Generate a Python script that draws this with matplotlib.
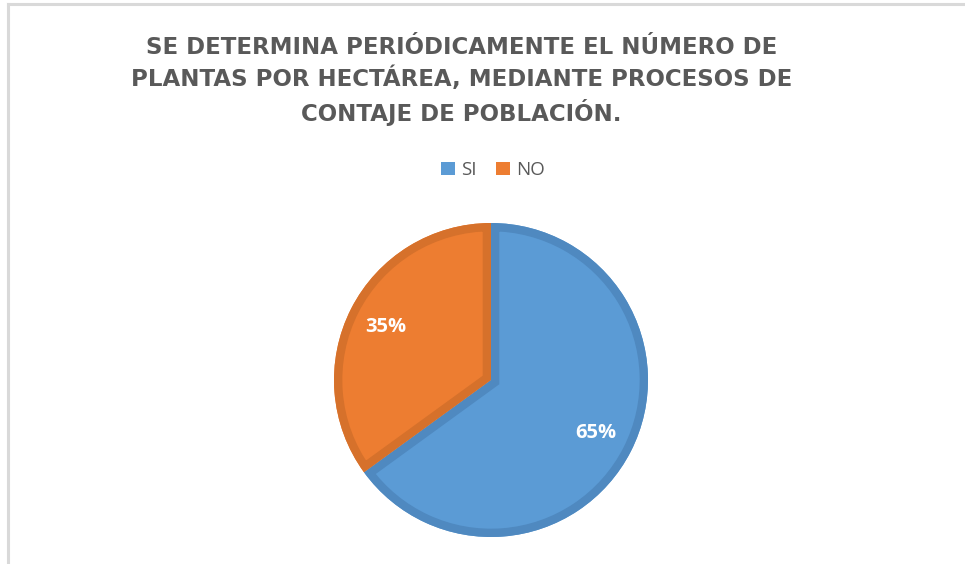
import matplotlib
matplotlib.use("Agg")
import matplotlib.pyplot as plt
from matplotlib.patches import Patch, Wedge
from matplotlib.lines import Line2D

title = "SE DETERMINA PERIÓDICAMENTE EL NÚMERO DE\nPLANTAS POR HECTÁREA, MEDIANTE PROCESOS DE\nCONTAJE DE POBLACIÓN."
labels = ["SI", "NO"]
values = [65, 35]
colors = ["#5B9BD5", "#ED7D31"]
edge_colors = ["#4F89C0", "#D6712B"]

fig = plt.figure(figsize=(9.65, 5.64), dpi=100)
fig.patch.set_facecolor("white")

# chart border (top and left visible)
fig.add_artist(Line2D([8/965, 8/965], [0, 1 - 4/564], color="#D9D9D9", lw=2.2, transform=fig.transFigure))
fig.add_artist(Line2D([8/965, 1], [1 - 4/564, 1 - 4/564], color="#D9D9D9", lw=2.2, transform=fig.transFigure))

fig.text(0.478, 1 - 81/564, title, ha="center", va="center", fontsize=16.5,
         fontweight="bold", color="#595959", family="DejaVu Sans", linespacing=1.37)

cx, cy, r = 491, 380, 157
ax = fig.add_axes([(cx - r)/965, (564 - cy - r)/564, 2*r/965, 2*r/564])
wedges, texts, autotexts = ax.pie(values, colors=colors, startangle=90, counterclock=False,
                                  autopct="%1.0f%%", pctdistance=0.75, radius=1.0,
                                  wedgeprops=dict(linewidth=0, edgecolor="none"),
                                  textprops=dict(color="white", fontsize=14.5, fontweight="bold",
                                                 family="Open Sans"))
for w, ec in zip(wedges, edge_colors):
    border = Wedge(w.center, w.r, w.theta1, w.theta2, facecolor="none",
                   edgecolor=ec, linewidth=12, zorder=w.get_zorder() + 0.1)
    ax.add_patch(border)
    border.set_clip_path(w)
for t in autotexts:
    t.set_zorder(5)
ax.set_xlim(-1, 1)
ax.set_ylim(-1, 1)
ax.set_aspect("equal")
ax.axis("off")

handles = [Patch(facecolor=c, edgecolor="none") for c in colors]
fig.legend(handles, labels, loc="center", bbox_to_anchor=(493/965, 1 - 170/564), ncol=2,
           frameon=False, handlelength=0.75, handleheight=0.75, handletextpad=0.35,
           columnspacing=1.0, prop=dict(family="Open Sans", size=13.5),
           labelcolor="#595959")

fig.savefig("out.png", dpi=100, facecolor="white")
